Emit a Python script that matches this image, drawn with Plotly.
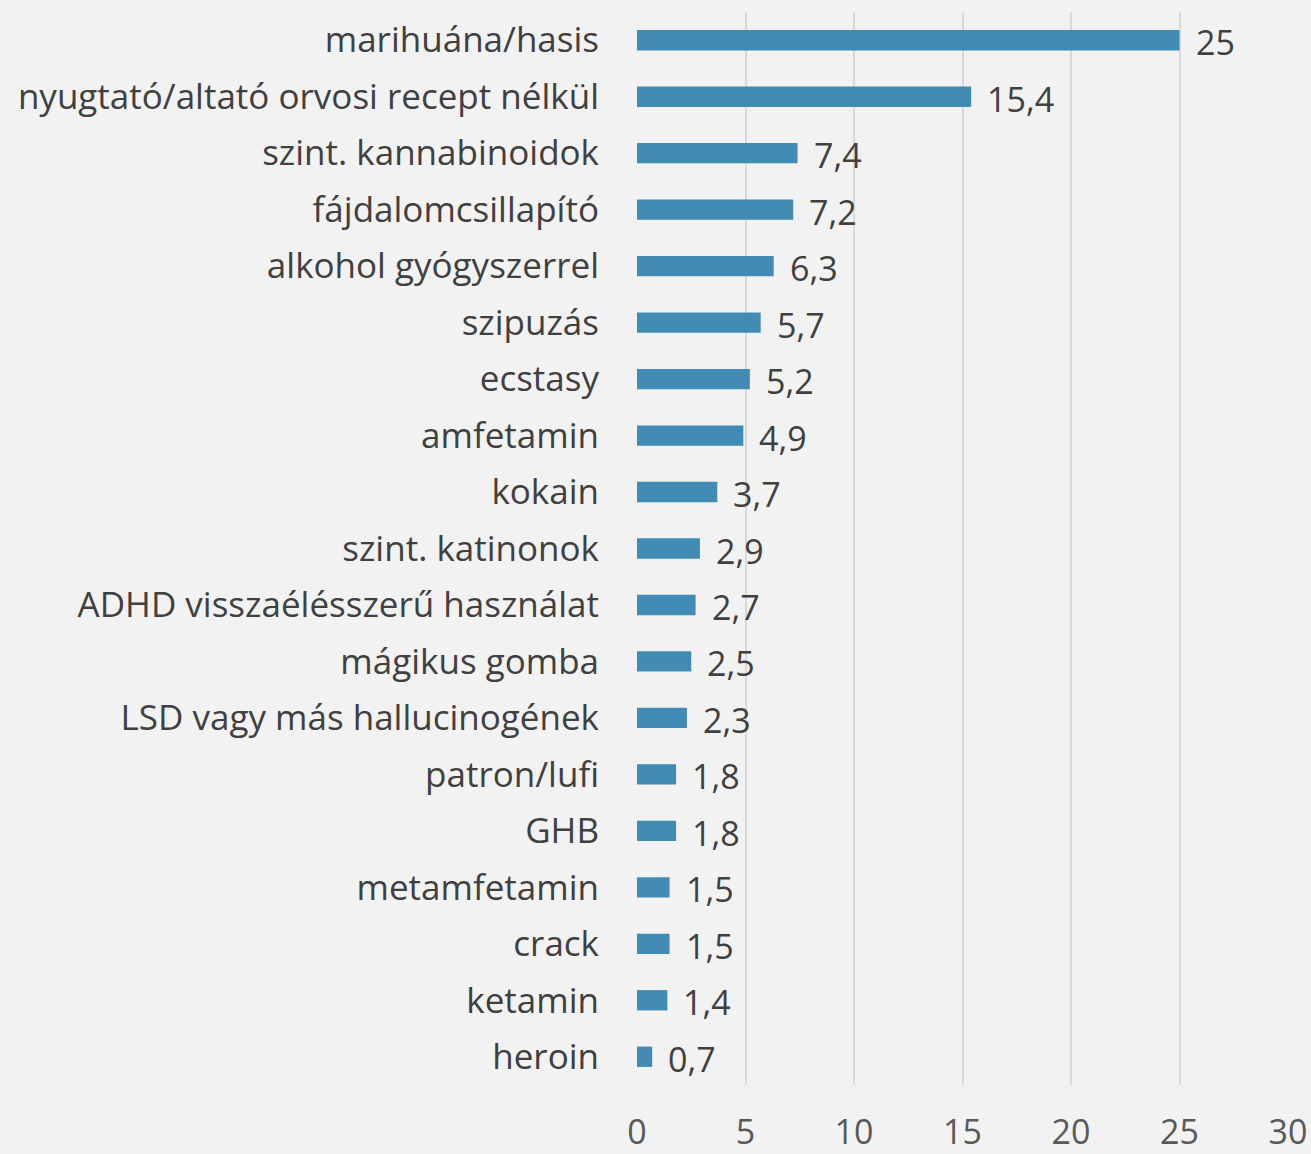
import plotly.graph_objects as go

categories = ["marihuána/hasis", "nyugtató/altató orvosi recept nélkül", "szint. kannabinoidok",
              "fájdalomcsillapító", "alkohol gyógyszerrel", "szipuzás", "ecstasy", "amfetamin",
              "kokain", "szint. katinonok", "ADHD visszaélésszerű használat", "mágikus gomba",
              "LSD vagy más hallucinogének", "patron/lufi", "GHB", "metamfetamin", "crack",
              "ketamin", "heroin"]
values = [25, 15.4, 7.4, 7.2, 6.3, 5.7, 5.2, 4.9, 3.7, 2.9, 2.7, 2.5, 2.3, 1.8, 1.8, 1.5, 1.5, 1.4, 0.7]
labels = [str(v).replace(".", ",") for v in values]
x_ticks = [0, 5, 10, 15, 20, 25, 30]

fig = go.Figure(go.Bar(
    x=values, y=categories, orientation="h",
    marker=dict(color="#428bb5", line=dict(width=0)),
    width=0.36,
))

for c, v, t in zip(categories, values, labels):
    fig.add_annotation(x=v, y=c, text=t, showarrow=False, xanchor="left", xshift=14, yshift=-2,
                       font=dict(size=34, color="#404040", family="Open Sans"))

fig.update_layout(
    width=1311, height=1154,
    paper_bgcolor="#f2f2f2", plot_bgcolor="#f2f2f2",
    margin=dict(l=637, r=23, t=12, b=69),
    showlegend=False,
    font=dict(family="Open Sans", color="#404040"),
    xaxis=dict(range=[0, 30], tickvals=x_ticks, showgrid=True, gridcolor="#d9d9d9", gridwidth=1.5,
               zeroline=False, showline=False, tickfont=dict(size=34, color="#595959"),
               ticks="outside", ticklen=17, tickcolor="rgba(0,0,0,0)", automargin=False),
    yaxis=dict(autorange="reversed", tickfont=dict(size=35, color="#404040"),
               ticks="outside", ticklen=30, tickcolor="rgba(0,0,0,0)", showgrid=False,
               automargin=False),
)

fig.write_html("out.html", config={"displayModeBar": False},
               post_script="document.body.style.margin='0';document.body.style.background='#f2f2f2';")
